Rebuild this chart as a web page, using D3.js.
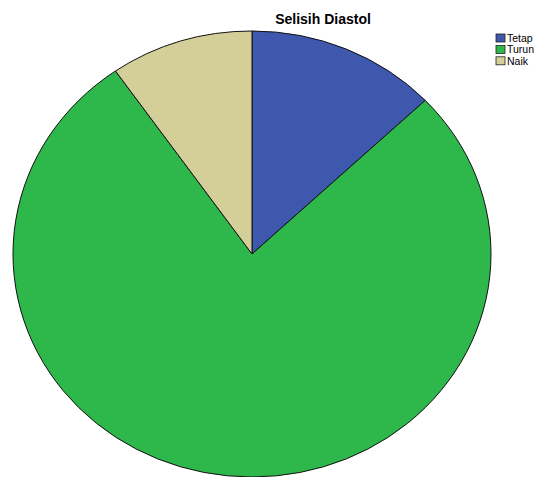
<!DOCTYPE html>
<html lang="en">
<head>
    <meta charset="UTF-8">
    <title>Selisih Diastol</title>
    <script src="https://d3js.org/d3.v7.min.js"></script>
    <style>
        body { margin: 0; background: #fff; overflow: hidden; }
        .title { font: bold 14px "Liberation Sans", Arial, sans-serif; }
        .legend text { font: 10.5px "Liberation Sans", Arial, sans-serif; }
    </style>
</head>
<body>
    <svg id="chart"></svg>
    <script>
    const categories = ["Tetap", "Turun", "Naik"];
    const counts = [4, 24, 3];
    const colors = ["#3e58ad", "#2eb84b", "#d4cf98"];

    const width = 535, height = 477;
    const cx = 252, cy = 254;
    const rx = 239, ry = 223;

    const svg = d3.select("#chart")
        .attr("width", width)
        .attr("height", height);

    svg.append("text")
        .attr("class", "title")
        .attr("x", 323)
        .attr("y", 24)
        .attr("text-anchor", "middle")
        .text("Selisih Diastol");

    const pie = d3.pie().sort(null).value(d => d);
    const arc = d3.arc().innerRadius(0).outerRadius(rx);

    // squash the circle into the same ellipse as the reference
    const g = svg.append("g")
        .attr("transform", `translate(${cx},${cy}) scale(1,${ry / rx})`);

    g.selectAll("path")
        .data(pie(counts))
        .enter().append("path")
        .attr("d", arc)
        .attr("fill", (d, i) => colors[i])
        .attr("stroke", "#111")
        .attr("stroke-width", 1)
        .attr("vector-effect", "non-scaling-stroke");

    const legend = svg.append("g").attr("class", "legend")
        .attr("transform", "translate(496,34)");

    const rows = legend.selectAll("g")
        .data(categories)
        .enter().append("g")
        .attr("transform", (d, i) => `translate(0,${i * 11.4})`);

    rows.append("rect")
        .attr("width", 9)
        .attr("height", 8)
        .attr("fill", (d, i) => colors[i])
        .attr("stroke", "#222")
        .attr("stroke-width", 0.8);

    rows.append("text")
        .attr("x", 11)
        .attr("y", 8)
        .text(d => d);
    </script>
</body>
</html>
